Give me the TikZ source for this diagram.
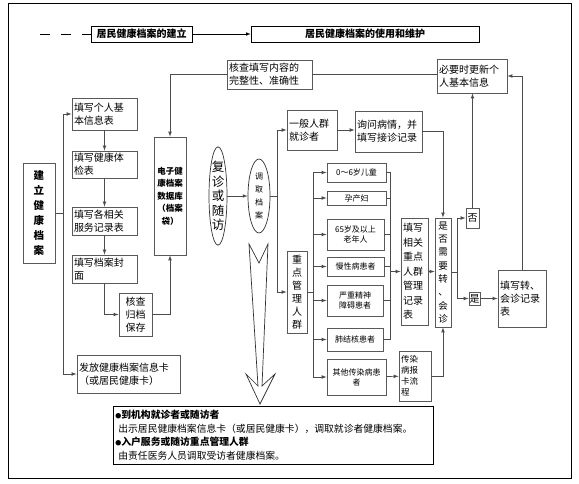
\documentclass[tikz,border=0pt]{standalone}
\usepackage{fontspec}
\setmainfont{Noto Sans CJK SC}
\usetikzlibrary{arrows, shapes.geometric}

\newcommand{\dotmark}{{\fontsize{6}{6}\selectfont ●}}

\begin{document}
\begin{tikzpicture}[x=1pt, y=-1pt, >=latex,
    box/.style={draw=black!65, line width=0.9pt, inner sep=2pt, align=left,
        font=\fontsize{10}{13}\selectfont},
    grp/.style={box, align=center, font=\fontsize{8}{10}\selectfont},
    vbox/.style={box, align=center, inner sep=0pt},
    head/.style={draw, line width=0.7pt, inner sep=0pt, font=\bfseries\fontsize{10}{12}\selectfont},
    oval/.style={ellipse, draw=black!80, line width=0.7pt, inner sep=0pt, align=center},
    link/.style={black!70, line width=0.7pt},
]
    \fill [white] (0, 0) rectangle (579, 484);
    \useasboundingbox (0, 0) rectangle (579, 484);
    \draw [line width=0.6pt] (8, 3) rectangle (571, 478);

    % headings
    \node [head, minimum width=101, minimum height=16] (hdA) at (141.5, 34) {居民健康档案的建立};
    \node [head, minimum width=228, minimum height=16] (hdB) at (365, 34) {居民健康档案的使用和维护};
    \coordinate (dashL) at (40, 34);
    \draw [dash pattern=on 10pt off 11pt, line width=0.6pt] (dashL) -- (hdA.west);
    \draw [->, line width=0.6pt] (hdA) -- (hdB);

    % building the record
    \node [vbox, minimum width=32, minimum height=100, font=\bfseries\fontsize{10.5}{15}\selectfont]
        (build) at (39, 213) {建\\立\\健\\康\\档\\案};
    \node [box, text width=61, minimum height=32] (f1) at (104.5, 114) {填写个人基\\本信息表};
    \node [box, text width=61, minimum height=27] (f2) at (104.5, 164.5) {填写健康体\\检表};
    \node [box, text width=61, minimum height=28] (f3) at (104.5, 221) {填写各相关\\服务记录表};
    \node [box, text width=61, minimum height=28] (f4) at (104.5, 269) {填写档案封\\面};
    \node [vbox, minimum width=33, minimum height=43] (arch) at (135.5, 314.5) {核查\\归档\\保存};
    \node [box, text width=99, minimum height=38] (card) at (128.5, 374) {发放健康档案信息卡\\（或居民健康卡）};
    \node [vbox, minimum width=32, minimum height=118, font=\bfseries\fontsize{8.5}{12.5}\selectfont]
        (edb) at (170, 196) {电子健\\康档案\\数据库\\（档案\\袋）};
    \node [box, text width=81, minimum height=29] (chk) at (269.5, 74.5) {核查填写内容的\\完整性、准确性};
    \node [box, text width=66, minimum height=34] (upd) at (472, 76) {必要时更新个\\人基本信息};

    % use and upkeep
    \node [oval, minimum width=18, minimum height=98, font=\fontsize{12.5}{14.5}\selectfont]
        (visit) at (218, 196) {复\\诊\\或\\随\\访};
    \node [oval, minimum width=22, minimum height=74, font=\fontsize{8}{13}\selectfont]
        (fetch) at (259, 196) {调\\取\\档\\案};
    \node [box, text width=46, minimum height=40] (gen) at (312, 130) {一般人群\\就诊者};
    \node [box, text width=63, minimum height=41] (ask) at (388.5, 131.5) {询问病情，并\\填写接诊记录};
    \node [vbox, minimum width=20, minimum height=82, font=\fontsize{10}{13}\selectfont]
        (key) at (297, 292) {重\\点\\管\\理\\人\\群};

    \node [grp, minimum width=59, minimum height=19] (g1) at (356.5, 172.5) {0～6岁儿童};
    \node [grp, minimum width=59, minimum height=14] (g2) at (356.5, 198) {孕产妇};
    \node [grp, minimum width=57, minimum height=31] (g3) at (355.5, 234.5) {65岁及以上\\老年人};
    \node [grp, minimum width=57, minimum height=19] (g4) at (355.5, 266.5) {慢性病患者};
    \node [grp, minimum width=56, minimum height=31] (g5) at (355, 300.5) {严重精神\\障碍患者};
    \node [grp, minimum width=56, minimum height=23] (g6) at (355, 339.5) {肺结核患者};
    \node [grp, minimum width=59, minimum height=36] (g7) at (356.5, 377) {其他传染病患\\者};

    \node [box, text width=23, minimum height=107, font=\fontsize{10}{14.5}\selectfont]
        (rec) at (414.5, 271.5) {填写\\相关\\重点\\人群\\管理\\记录\\表};
    \node [box, text width=28, minimum height=50, font=\fontsize{8.5}{11}\selectfont]
        (rep) at (415, 376) {传染\\病报\\卡流\\程};
    \node [vbox, minimum width=16, minimum height=109, font=\fontsize{9.5}{13.3}\selectfont]
        (need) at (443, 272.5) {是\\否\\需\\要\\转\\、\\会\\诊};
    \node [vbox, minimum width=13, minimum height=20] (no) at (472.5, 218) {否};
    \node [vbox, minimum width=11, minimum height=13] (yes) at (474.5, 298.5) {是};
    \node [box, text width=44, minimum height=57] (tr) at (522, 298.5) {填写转、\\会诊记录\\表};

    % big hollow arrow
    \draw [black!80, line width=0.7pt]
        (249, 244) -- (259, 263) -- (268, 244) -- (262, 386) -- (275, 374)
        -- (260, 404) -- (246, 374) -- (258, 386) -- cycle;

    \node [draw, line width=0.7pt, anchor=north west, text width=316, minimum height=58,
        inner sep=2pt, align=left, font=\fontsize{9.8}{13.5}\selectfont] (note) at (113, 406)
        {{\bfseries \dotmark 到机构就诊者或随访者}\\
         \hspace*{3pt}出示居民健康档案信息卡（或居民健康卡），调取就诊者健康档案。\\
         {\bfseries \dotmark 入户服务或随访重点管理人群}\\
         \hspace*{3pt}由责任医务人员调取受访者健康档案。};

    % left side links
    \draw [link, ->] (f1) -- (f2);
    \draw [link, ->] (f2) -- (f3);
    \draw [link, ->] (f3) -- (f4);
    \draw [link, ->] (f4.south) |- (arch.west);
    \draw [link, ->] (arch.east) -| (edb.south);
    \draw [link, ->] (chk.west) -| (edb.north);
    \draw [link] (chk.east) -- (upd.west |- chk.east);
    \draw [link, ->] (build.east) --++ (8, 0) |- (f1.west);
    \draw [link, ->] (build.east) --++ (8, 0) |- (card.west);

    % right side links
    \draw [link, ->] (visit) -- (fetch);
    \draw [link, ->] (fetch.east) --++ (7, 0) |- (gen.west);
    \draw [link, ->] (fetch.east) --++ (7, 0) |- (key.west);
    \draw [link, ->] (gen.east) -- (gen.east -| ask.west);
    \draw [link, ->] (ask.east) -| (need.north);

    \coordinate (busL) at (313, 292);
    \coordinate (busR) at (390, 272);
    \draw [link] (key.east) -- (busL);
    \draw [link] (busL |- g1.west) -- (busL |- g7.west);
    \foreach \g in {g1, g2, g3, g4, g5, g6, g7} {
        \draw [link, ->] (busL |- \g.west) -- (\g.west);
    }
    \foreach \g in {g1, g2, g3, g4, g5, g6} {
        \draw [link] (\g.east) -- (busR |- \g.east);
    }
    \draw [link] (busR |- g1.east) -- (busR |- g6.east);
    \draw [link, ->] (busR |- rec.west) -- (rec.west);
    \draw [link, ->] (g7) -- (rep);
    \draw [link, ->] (rep.east) -| (need.south);
    \draw [link, ->] (rec.east) -- (rec.east -| need.west);
    \draw [link, ->] (need.east) --++ (6, 0) |- (no.west);
    \draw [link, ->] (need.east) --++ (6, 0) |- (yes.west);
    \draw [link, ->] (no.north) -- (no.north |- upd.south);
    \draw [link, ->] (yes) -- (tr);
    \draw [link, ->] (tr.north) |- (upd.east);
\end{tikzpicture}
\end{document}
